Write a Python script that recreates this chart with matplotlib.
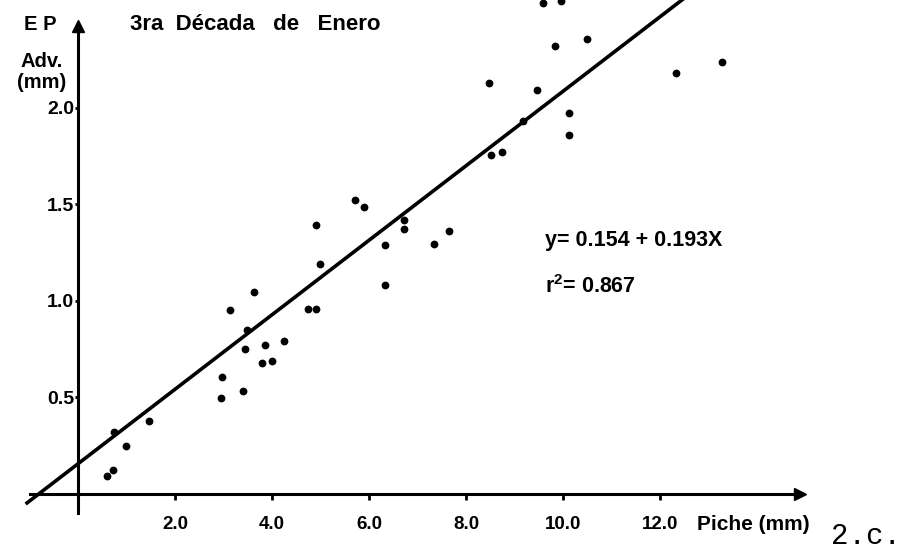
import matplotlib
matplotlib.use('Agg')
import matplotlib.pyplot as plt
import numpy as np

plt.rcParams['font.family'] = ['Liberation Sans', 'DejaVu Sans']
plt.rcParams['mathtext.fontset'] = 'custom'
plt.rcParams['mathtext.rm'] = 'Liberation Sans:bold'
plt.rcParams['mathtext.it'] = 'Liberation Sans:bold'

# Datos: evaporacion Piche (x) vs EP advectiva (y), en mm
piche_mm = [0.60, 0.73, 1.00, 1.46, 0.74, 2.96, 2.94, 3.41, 3.79, 3.99,
            3.63, 3.14, 4.74, 4.91, 3.48, 3.86, 4.25, 3.44, 5.72, 5.90,
            4.91, 6.72, 6.72, 6.32, 7.33, 7.64, 5.00, 6.32, 8.51, 8.74,
            9.18, 9.58, 9.96, 9.84, 10.49, 8.48, 9.46, 10.12, 10.12, 12.34,
            13.28]
ep_adv_mm = [0.091, 0.122, 0.248, 0.374, 0.320, 0.605, 0.495, 0.531, 0.675, 0.685,
             1.042, 0.951, 0.954, 0.956, 0.847, 0.768, 0.792, 0.747, 1.519, 1.483,
             1.390, 1.415, 1.370, 1.288, 1.291, 1.360, 1.191, 1.080, 1.754, 1.768,
             1.932, 2.543, 2.552, 2.317, 2.355, 2.128, 2.091, 1.970, 1.856, 2.177,
             2.236]

# Recta de regresion
INTERCEPT = 0.154
SLOPE = 0.193
R2 = 0.867
FIT_X = (-1.05, 14.0)

x_ticks = [2.0, 4.0, 6.0, 8.0, 10.0, 12.0]
x_tick_labels = ['2.0', '4.0', '6.0', '8.0', '10.0', '12.0']
y_ticks = [0.5, 1.0, 1.5, 2.0]
y_tick_labels = ['0.5', '1.0', '1.5', '2.0']

fig = plt.figure(figsize=(9.03, 5.52), dpi=100)
ax = fig.add_axes([0, 0, 1, 1])
ax.set_xlim(-1.608, 17.01)
ax.set_ylim(-0.303, 2.557)

# ejes tipo dibujo a mano
for side in ['top', 'right']:
    ax.spines[side].set_visible(False)
ax.spines['left'].set_position(('data', 0))
ax.spines['bottom'].set_position(('data', 0))
ax.spines['left'].set_bounds(-0.10, 2.42)
ax.spines['bottom'].set_bounds(-0.99, 14.85)
for side in ['left', 'bottom']:
    ax.spines[side].set_linewidth(2.2)
ax.plot([0], [2.422], marker='^', color='black', markersize=9, clip_on=False)
ax.plot([14.89], [0], marker='>', color='black', markersize=9, clip_on=False)

ax.set_xticks(x_ticks)
ax.set_xticklabels(x_tick_labels, fontsize=13.5, fontweight='bold')
ax.set_yticks(y_ticks)
ax.set_yticklabels(y_tick_labels, fontsize=14, fontweight='bold')
ax.tick_params(axis='x', direction='out', length=4.3, width=2, pad=12)
ax.tick_params(axis='y', direction='out', length=2.2, width=2, pad=0.5)

# puntos y recta
ax.plot(piche_mm, ep_adv_mm, 'o', color='black', markersize=4.6)
fx = np.array(FIT_X)
ax.plot(fx, INTERCEPT + SLOPE * fx, color='black', linewidth=2.6)

# textos
ax.text(1.07, 2.43, '3ra  Década   de   Enero', fontsize=16, fontweight='bold',
        va='center', ha='left')
ax.text(-0.78, 2.43, 'E P', fontsize=14.5, fontweight='bold', va='center', ha='center')
ax.text(-0.75, 2.24, 'Adv.', fontsize=14.5, fontweight='bold', va='center', ha='center')
ax.text(-0.76, 2.13, '(mm)', fontsize=14.5, fontweight='bold', va='center', ha='center')

ax.text(9.63, 1.31, f'y= {INTERCEPT} + {SLOPE}X', fontsize=15.5, fontweight='bold',
        va='center', ha='left')
ax.text(9.63, 1.07, f'r$^2$= {R2}', fontsize=15.5, fontweight='bold',
        va='center', ha='left')

ax.text(12.76, -0.16, 'Piche (mm)', fontsize=15, fontweight='bold', va='center', ha='left')
ax.text(16.25, -0.22, '2.c.', fontsize=21, family='Liberation Mono',
        va='center', ha='center')

fig.savefig('out.png', dpi=100)
